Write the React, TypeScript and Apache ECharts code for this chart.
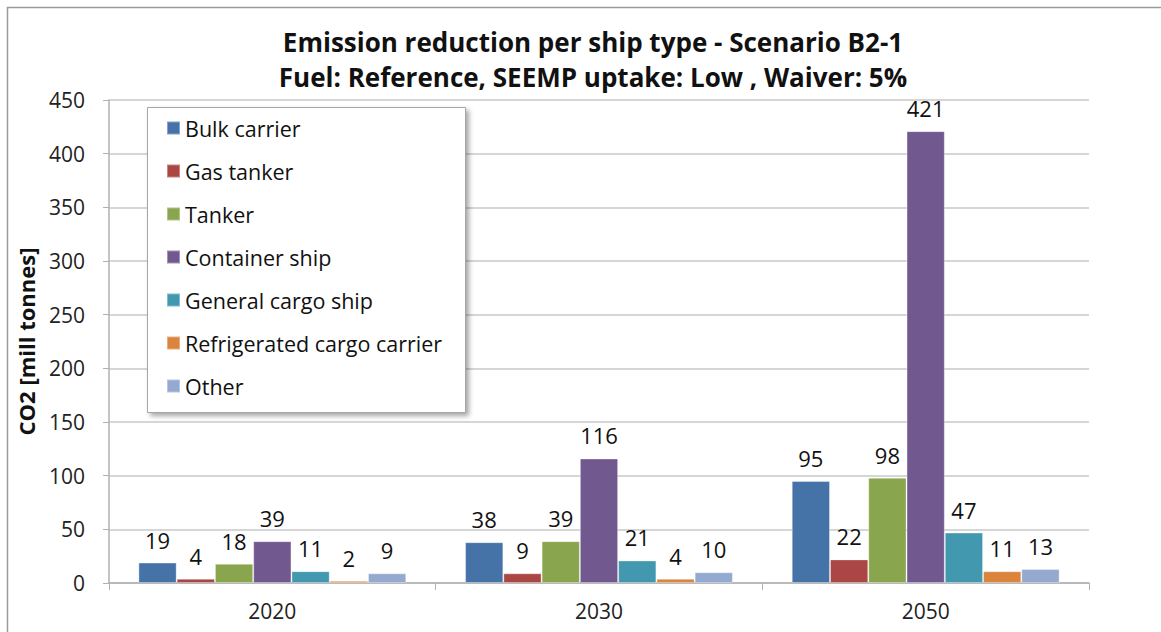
import React, { useEffect, useRef } from "react";
import * as echarts from "echarts";

const years = ["2020", "2030", "2050"];
const shipTypes = [
  "Bulk carrier",
  "Gas tanker",
  "Tanker",
  "Container ship",
  "General cargo ship",
  "Refrigerated cargo carrier",
  "Other",
];
const bulkCarrier = [19, 38, 95];
const gasTanker = [4, 9, 22];
const tanker = [18, 39, 98];
const containerShip = [39, 116, 421];
const generalCargo = [11, 21, 47];
const refrigerated = [2, 4, 11];
const other = [9, 10, 13];
const seriesValues = [bulkCarrier, gasTanker, tanker, containerShip, generalCargo, refrigerated, other];
const colors = ["#4572A7", "#AA4643", "#89A54E", "#71588F", "#4198AF", "#DB843D", "#93A9CF"];

const titleLine1 = "Emission reduction per ship type - Scenario B2-1";
const titleLine2 = "Fuel: Reference, SEEMP uptake: Low , Waiver: 5%";
const yAxisName = "CO2 [mill tonnes]";

const FONT = "'Open Sans', Lato, sans-serif";

export default function App() {
  const ref = useRef<HTMLDivElement>(null);
  useEffect(() => {
    if (!ref.current) return;
    const chart = echarts.init(ref.current, null, { renderer: "svg" });
    chart.setOption({
      animation: false,
      backgroundColor: "#ffffff",
      textStyle: { fontFamily: FONT },
      title: [
        {
          text: titleLine1,
          left: 593,
          top: 27,
          textAlign: "center",
          padding: 0,
          textStyle: { fontFamily: FONT, fontSize: 26, fontWeight: "bold", color: "#111", lineHeight: 30 },
        },
        {
          text: titleLine2,
          left: 593,
          top: 62,
          textAlign: "center",
          padding: 0,
          textStyle: { fontFamily: FONT, fontSize: 26, fontWeight: "bold", color: "#111", lineHeight: 30 },
        },
      ],
      graphic: [
        {
          type: "rect",
          z: -10,
          shape: { x: 7.5, y: 7.5, width: 1400, height: 900 },
          style: { fill: "none", stroke: "#9a9a9a", lineWidth: 1.5 },
          silent: true,
        },
        {
          type: "rect",
          z: 50,
          shape: { x: 147.5, y: 107.5, width: 318, height: 305 },
          style: {
            fill: "#ffffff",
            stroke: "#a6a6a6",
            lineWidth: 1,
            shadowBlur: 5,
            shadowOffsetX: 3,
            shadowOffsetY: 3,
            shadowColor: "rgba(0,0,0,0.35)",
          },
          silent: true,
        },
      ],
      legend: {
        orient: "vertical",
        left: 166,
        top: 117,
        padding: 0,
        z: 60,
        itemWidth: 13,
        itemHeight: 13,
        itemGap: 21,
        icon: "rect",
        textStyle: { fontFamily: FONT, fontSize: 21.5, color: "#111", lineHeight: 22 },
        data: shipTypes,
      },
      grid: { left: 109, right: 72, top: 100, bottom: 49, containLabel: false },
      xAxis: {
        type: "category",
        data: years,
        axisLine: { lineStyle: { color: "#b0b0b0", width: 1.5 } },
        axisTick: { show: true, length: 7, lineStyle: { color: "#b0b0b0" } },
        axisLabel: { fontFamily: FONT, fontSize: 21, color: "#222", margin: 17, lineHeight: 22 },
      },
      yAxis: {
        type: "value",
        min: 0,
        max: 450,
        interval: 50,
        name: yAxisName,
        nameLocation: "middle",
        nameGap: 71,
        nameTextStyle: { fontFamily: FONT, fontSize: 22, fontWeight: "bold", color: "#111", lineHeight: 24 },
        axisLine: { show: true, lineStyle: { color: "#b0b0b0", width: 1.5 } },
        axisTick: { show: true, length: 6, lineStyle: { color: "#b0b0b0" } },
        axisLabel: { fontFamily: FONT, fontSize: 21, color: "#222", margin: 24 },
        splitLine: { show: true, lineStyle: { color: "#c8c8c8", width: 1.5 } },
      },
      series: shipTypes.map((name, i) => ({
        name,
        type: "bar",
        data: seriesValues[i],
        barGap: "0%",
        barCategoryGap: "18%",
        itemStyle: { color: colors[i], borderColor: "rgba(255,255,255,0.35)", borderWidth: 1 },
        label: {
          show: true,
          position: "top",
          distance: 12,
          fontFamily: FONT,
          fontSize: 22,
          lineHeight: 22,
          color: "#111",
        },
      })),
    });
    return () => chart.dispose();
  }, []);
  return (
    <div
      ref={ref}
      style={{ position: "absolute", left: 0, top: 0, width: 1161, height: 632 }}
    />
  );
}
